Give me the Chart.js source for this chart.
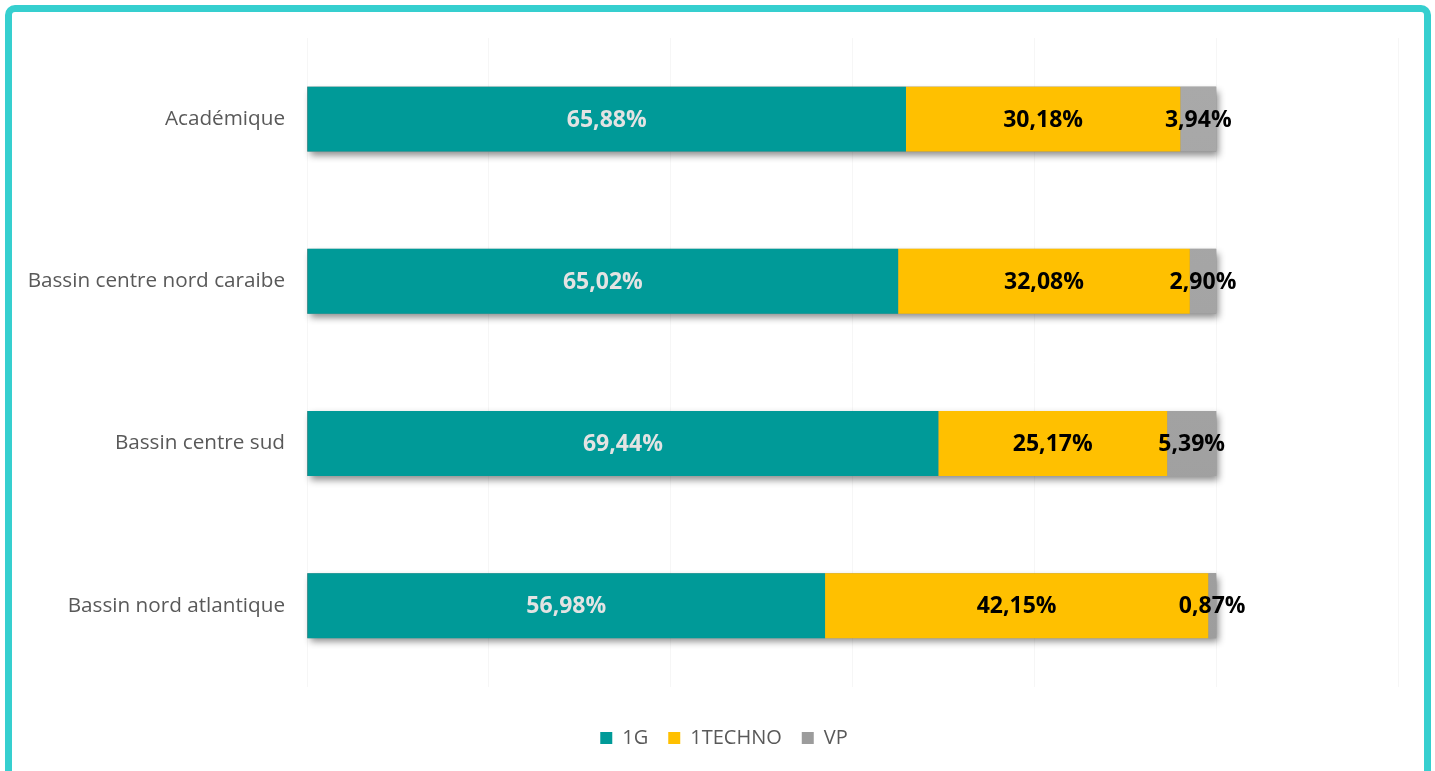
<!DOCTYPE html>
<html>
<head>
<meta charset="utf-8">
<script src="https://cdn.jsdelivr.net/npm/chart.js@4.4.1/dist/chart.umd.min.js"></script>
<style>
  html, body { margin: 0; padding: 0; background: #fff; overflow: hidden; }
  #frame { position: absolute; left: 5px; top: 5px; width: 1412px; height: 800px;
           border: 7px solid #36cfcf; border-radius: 10px; pointer-events: none; }
  #wrap { position: absolute; left: 0; top: 0; width: 1435px; height: 771px; }
</style>
</head>
<body>
<div id="wrap"><canvas id="chart"></canvas></div>
<div id="frame"></div>
<script>
// ── Data ──
const categories = ['Académique', 'Bassin centre nord caraibe', 'Bassin centre sud', 'Bassin nord atlantique'];
const seriesNames = ['1G', '1TECHNO', 'VP'];
const values1G = [65.88, 65.02, 69.44, 56.98];
const valuesTechno = [30.18, 32.08, 25.17, 42.15];
const valuesVP = [3.94, 2.90, 5.39, 0.87];
const xTicks = [0, 20, 40, 60, 80, 100, 120];

const fontFam = "'Open Sans', 'Noto Sans', sans-serif";
const fmt = v => v.toFixed(2).replace('.', ',') + '%';

function vpGradient(ctx) {
  const { chart } = ctx;
  const area = chart.chartArea;
  if (!area) return '#a5a5a5';
  const g = chart.ctx.createLinearGradient(0, area.top, 0, area.bottom);
  g.addColorStop(0, '#aaaaaa');
  g.addColorStop(1, '#9c9c9c');
  return g;
}

// drop shadow under each full stacked bar
const barShadow = {
  id: 'barShadow',
  beforeDatasetsDraw(chart) {
    const { ctx, scales: { x } } = chart;
    const meta = chart.getDatasetMeta(0);
    ctx.save();
    ctx.shadowColor = 'rgba(0,0,0,0.45)';
    ctx.shadowBlur = 7;
    ctx.shadowOffsetX = 3;
    ctx.shadowOffsetY = 4;
    ctx.fillStyle = '#888';
    meta.data.forEach((bar, i) => {
      const total = values1G[i] + valuesTechno[i] + valuesVP[i];
      const x0 = x.getPixelForValue(0);
      const x1 = x.getPixelForValue(total);
      const h = bar.height;
      ctx.fillRect(x0, bar.y - h / 2, x1 - x0, h);
    });
    ctx.restore();
  }
};

// value labels centred in each segment
const segLabels = {
  id: 'segLabels',
  afterDatasetsDraw(chart) {
    const { ctx } = chart;
    ctx.save();
    ctx.font = 'bold 23px ' + fontFam;
    ctx.textAlign = 'center';
    ctx.textBaseline = 'middle';
    chart.data.datasets.forEach((ds, di) => {
      const meta = chart.getDatasetMeta(di);
      meta.data.forEach((bar, i) => {
        ctx.fillStyle = di === 0 ? '#e3e3e3' : '#000';
        ctx.fillText(fmt(ds.data[i]), (bar.x + bar.base) / 2, bar.y + 1);
      });
    });
    ctx.restore();
  }
};

// nudge the legend right so it sits under the middle of the whole picture
const legendShift = {
  id: 'legendShift',
  afterLayout(chart) {
    if (chart.legend) { chart.legend.left += 25; chart.legend.right += 25; }
  }
};

new Chart(document.getElementById('chart'), {
  type: 'bar',
  data: {
    labels: categories,
    datasets: [
      { label: seriesNames[0], data: values1G, backgroundColor: '#009a98' },
      { label: seriesNames[1], data: valuesTechno, backgroundColor: '#ffc000' },
      { label: seriesNames[2], data: valuesVP, backgroundColor: vpGradient }
    ]
  },
  options: {
    indexAxis: 'y',
    responsive: true,
    maintainAspectRatio: false,
    animation: false,
    categoryPercentage: 1,
    barPercentage: 0.4,
    borderWidth: 0,
    layout: { padding: { left: 0, right: 37, top: 38, bottom: 13 } },
    plugins: {
      legend: {
        position: 'bottom',
        title: { display: true, text: ' ', font: { size: 1 }, padding: { top: 0, bottom: 20 } },
        labels: {
          boxWidth: 12, boxHeight: 12, padding: 20,
          color: '#595959',
          font: { family: fontFam, size: 20 }
        }
      },
      tooltip: { enabled: false }
    },
    scales: {
      x: {
        stacked: true,
        min: 0, max: 120,
        afterBuildTicks: s => { s.ticks = xTicks.map(v => ({ value: v })); },
        ticks: { display: false },
        grid: { color: '#f6f6f6', drawTicks: false },
        border: { display: false }
      },
      y: {
        stacked: true,
        afterFit: s => { s.width = 307; },
        ticks: { color: '#595959', padding: 22, font: { family: fontFam, size: 20.7 } },
        grid: { display: false, drawTicks: false },
        border: { display: false }
      }
    }
  },
  plugins: [barShadow, segLabels, legendShift]
});
</script>
</body>
</html>
